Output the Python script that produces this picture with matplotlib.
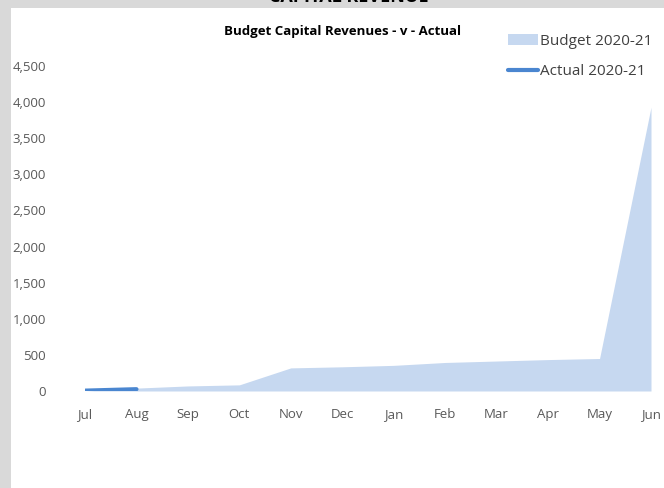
import matplotlib.pyplot as plt
from matplotlib.patches import Rectangle
from matplotlib.ticker import FuncFormatter

months = ['Jul', 'Aug', 'Sep', 'Oct', 'Nov', 'Dec', 'Jan', 'Feb', 'Mar', 'Apr', 'May', 'Jun']
budget = [0, 40, 70, 85, 320, 335, 355, 395, 415, 435, 450, 3930]
actual = [5, 25]

plt.rcParams['font.family'] = ['Open Sans', 'DejaVu Sans']

fig = plt.figure(figsize=(6.64, 4.88), dpi=100, facecolor='#d9d9d9')
# white chart panel over the grey sheet
fig.patches.append(Rectangle((11 / 664, 0), 1, 1 - 8 / 488, transform=fig.transFigure,
                             facecolor='white', edgecolor='none', zorder=-5))
# clipped sheet heading
fig.text(349 / 664, 1 + 3 / 488, 'CAPITAL REVENUE', ha='center', va='center',
         fontsize=13, fontweight='bold', color='black')

ax = fig.add_axes([85 / 664, 1 - 391 / 488, (651 - 85) / 664, (391 - 66) / 488])
ax.set_facecolor('none')

x = list(range(len(months)))
ax.fill_between(x, budget, 0, color='#c6d8f0', linewidth=0, label='Budget 2020-21')
ax.plot(x[:len(actual)], actual, color='#4a86d0', linewidth=3,
        solid_capstyle='round', label='Actual 2020-21')

ax.set_xlim(0, 11)
ax.set_ylim(0, 4500)
ax.set_xticks(x)
ax.set_xticklabels(months)
ax.set_yticks(range(0, 4501, 500))
ax.yaxis.set_major_formatter(FuncFormatter(lambda v, p: f'{int(v):,}'))
ax.tick_params(axis='both', length=0, labelsize=9.5, colors='#595959')
ax.tick_params(axis='y', pad=28)
ax.tick_params(axis='x', pad=12)
for s in ax.spines.values():
    s.set_visible(False)

fig.text(343 / 664, 1 - 31 / 488, 'Budget Capital Revenues - v - Actual', ha='center',
         va='center', fontsize=9.5, fontweight='bold', color='black')

leg = ax.legend(loc='upper left', bbox_to_anchor=(494 / 664, 1 - 20 / 488),
                bbox_transform=fig.transFigure, frameon=False, fontsize=11,
                handlelength=2.0, handletextpad=0.1, labelspacing=1.0)
for t in leg.get_texts():
    t.set_color('#404040')

fig.savefig('out.png', dpi=100, facecolor=fig.get_facecolor())
